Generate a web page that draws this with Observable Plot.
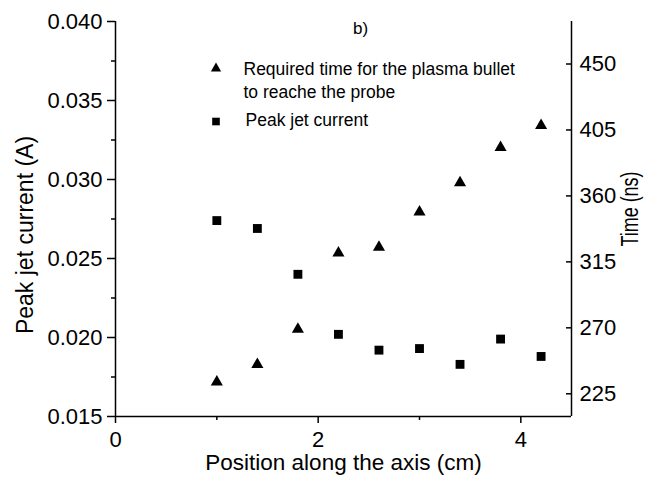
<!DOCTYPE html>
<html><head><meta charset="utf-8">
<script src="https://cdn.jsdelivr.net/npm/d3@7"></script>
<script src="https://cdn.jsdelivr.net/npm/@observablehq/plot@0.6"></script>
<style>body{margin:0;background:#fff;} svg{display:block;}</style>
</head><body><div id="chart"></div>
<script>
// ---- data ----
const positions = [1.0, 1.4, 1.8, 2.2, 2.6, 3.0, 3.4, 3.8, 4.2];
const peakCurrent = [0.0274, 0.0269, 0.0240, 0.0202, 0.0192, 0.0193, 0.0183, 0.0199, 0.0188];
const arrivalTime = [233, 245, 269, 321, 325, 349, 369, 393, 408];

const xDomain = [0, 4.5];
const currentDomain = [0.015, 0.040];
const timeDomain = [209.5, 479];

const xMajorTicks = [0, 2, 4];
const xMinorTicks = [1, 3];
const currentMajorTicks = [0.015, 0.020, 0.025, 0.030, 0.035, 0.040];
const currentMinorTicks = [0.0175, 0.0225, 0.0275, 0.0325, 0.0375];
const timeTicks = [225, 270, 315, 360, 405, 450];

const panelLabel = ["b)"];
const xLabel = ["Position along the axis (cm)"];
const leftLabel = ["Peak jet current (A)"];
const rightLabel = ["Time (ns)"];
const legendTime = ["Required time for the plasma bullet", "to reache the probe"];
const legendCurrent = ["Peak jet current"];

// ---- mapping time onto the current scale (secondary axis) ----
const k = (currentDomain[1] - currentDomain[0]) / (timeDomain[1] - timeDomain[0]);
const toY = t => currentDomain[0] + (t - timeDomain[0]) * k;
const fromY = y => timeDomain[0] + (y - currentDomain[0]) / k;

const idx = positions.map((_, i) => i);
const font = "Liberation Sans, Arial, Helvetica, sans-serif";

const chart = Plot.plot({
  width: 651,
  height: 477,
  marginLeft: 115,
  marginRight: 80,
  marginTop: 21,
  marginBottom: 61,
  style: {fontFamily: font, background: "white", color: "black", overflow: "visible"},
  x: {domain: xDomain, label: null},
  y: {domain: currentDomain, label: null},
  marks: [
    // frame lines
    Plot.ruleX(xDomain, {stroke: "black", strokeWidth: 1.5}),
    Plot.ruleY([currentDomain[0]], {stroke: "black", strokeWidth: 1.5}),
    // x axis
    Plot.axisX(xMajorTicks, {tickSize: 7, tickPadding: 8, fontSize: 22, label: null, strokeWidth: 1.5, tickFormat: d3.format("d")}),
    Plot.axisX(xMinorTicks, {tickSize: 4, label: null, strokeWidth: 1.5, tickFormat: () => ""}),
    // left axis
    Plot.axisY(currentMajorTicks, {anchor: "left", tickSize: 8, tickPadding: 5, fontSize: 22, label: null, strokeWidth: 1.5, tickFormat: d3.format(".3f")}),
    Plot.axisY(currentMinorTicks, {anchor: "left", tickSize: 4, label: null, strokeWidth: 1.5, tickFormat: () => ""}),
    // right axis (time)
    Plot.axisY(timeTicks.map(toY), {anchor: "right", tickSize: -6, tickPadding: 14, fontSize: 22, label: null, strokeWidth: 1.5, tickFormat: d => d3.format("d")(Math.round(fromY(d)))}),
    // axis titles
    Plot.text(xLabel, {frameAnchor: "bottom", dy: 46, fontSize: 22.5, textAnchor: "middle", lineAnchor: "middle", text: d => d}),
    Plot.text(leftLabel, {frameAnchor: "left", dx: -90, dy: 16, rotate: -90, fontSize: 23, textAnchor: "middle", lineAnchor: "middle", text: d => d}),
    Plot.text(rightLabel, {frameAnchor: "right", dx: 59, dy: 27.5, rotate: -90, fontSize: 23, textAnchor: "start", lineAnchor: "middle", text: d => d, className: "time-label"}),
    Plot.text(panelLabel, {frameAnchor: "top-left", dx: 245, dy: 7, fontSize: 17, textAnchor: "middle", lineAnchor: "middle", text: d => d}),
    // data
    Plot.dot(idx, {x: i => positions[i], y: i => peakCurrent[i], symbol: "square", r: 5, fill: "black"}),
    Plot.dot(idx, {x: i => positions[i], y: i => toY(arrivalTime[i]), symbol: "triangle", r: 4.5, fill: "black"}),
    // legend
    Plot.dot([0], {frameAnchor: "top-left", dx: 100.5, dy: 47, symbol: "triangle", r: 3.8, fill: "black"}),
    Plot.dot([0], {frameAnchor: "top-left", dx: 100.5, dy: 100, symbol: "square", r: 4.3, fill: "black"}),
    Plot.text([legendTime[0]], {frameAnchor: "top-left", dx: 128, dy: 48, textAnchor: "start", lineAnchor: "middle", fontSize: 17.5, text: d => d}),
    Plot.text([legendTime[1]], {frameAnchor: "top-left", dx: 128, dy: 71, textAnchor: "start", lineAnchor: "middle", fontSize: 17.5, text: d => d}),
    Plot.text(legendCurrent, {frameAnchor: "top-left", dx: 130, dy: 99, textAnchor: "start", lineAnchor: "middle", fontSize: 17.5, text: d => d})
  ]
});

document.getElementById("chart").appendChild(chart);
chart.querySelectorAll(".time-label text").forEach(t => {
  t.setAttribute("textLength", 75);
  t.setAttribute("lengthAdjust", "spacingAndGlyphs");
});
</script>
</body></html>
